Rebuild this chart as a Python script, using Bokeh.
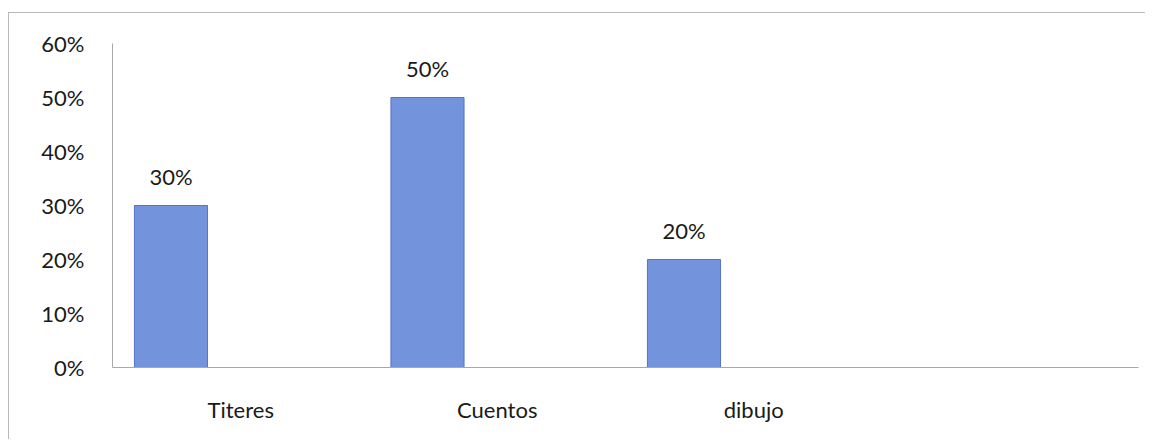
from bokeh.plotting import figure
from bokeh.models import FactorRange, Range1d, NumeralTickFormatter, FixedTicker, ColumnDataSource, LabelSet
from bokeh.transform import dodge
from bokeh.core.properties import value
from bokeh.embed import file_html
from bokeh.resources import INLINE

# data
categories = ["Titeres", "Cuentos", "dibujo"]
empty_slot = [" "]
values = [0.30, 0.50, 0.20]
value_labels = [f"{round(v * 100)}%" for v in values]
y_ticks = [0.0, 0.1, 0.2, 0.3, 0.4, 0.5, 0.6]

FONT = "Lato"
TEXT_COLOR = "#1a1a1a"
AXIS_COLOR = "#a8a8a8"

src = ColumnDataSource(dict(cat=categories, val=values, lab=value_labels))

p = figure(
    x_range=FactorRange(factors=categories + empty_slot),
    y_range=Range1d(0, 0.6),
    width=1137, height=427,
    output_backend="svg", toolbar_location=None,
    min_border_left=103, min_border_right=8, min_border_top=30, min_border_bottom=73,
    outline_line_color=None,
    styles={"border-top": "1px solid #b8b8b8", "border-left": "1px solid #b8b8b8",
            "margin-top": "12px", "margin-left": "8px"},
)

p.vbar(x=dodge("cat", -0.272, range=p.x_range), top="val", width=0.285, source=src,
       fill_color="#7393dc", line_color="#5673c4", line_width=1)

labels = LabelSet(x=dodge("cat", -0.272, range=p.x_range), y="val", text="lab", source=src,
                  text_align="center", text_baseline="bottom", y_offset=16,
                  text_font=value(FONT), text_font_size="22px", text_color=TEXT_COLOR)
p.add_layout(labels)

p.xgrid.grid_line_color = None
p.ygrid.grid_line_color = None

p.yaxis.ticker = FixedTicker(ticks=y_ticks)
p.yaxis.formatter = NumeralTickFormatter(format="0%")
for ax in (p.xaxis[0], p.yaxis[0]):
    ax.axis_line_color = AXIS_COLOR
    ax.axis_line_width = 1
    ax.major_tick_line_color = None
    ax.minor_tick_line_color = None
    ax.major_tick_out = 0
    ax.major_tick_in = 0
    ax.major_label_text_font = FONT
    ax.major_label_text_font_size = "22px"
    ax.major_label_text_color = TEXT_COLOR
p.yaxis.major_label_standoff = 28
p.xaxis.major_label_standoff = 28

open("out.html", "w").write(file_html(p, INLINE))
